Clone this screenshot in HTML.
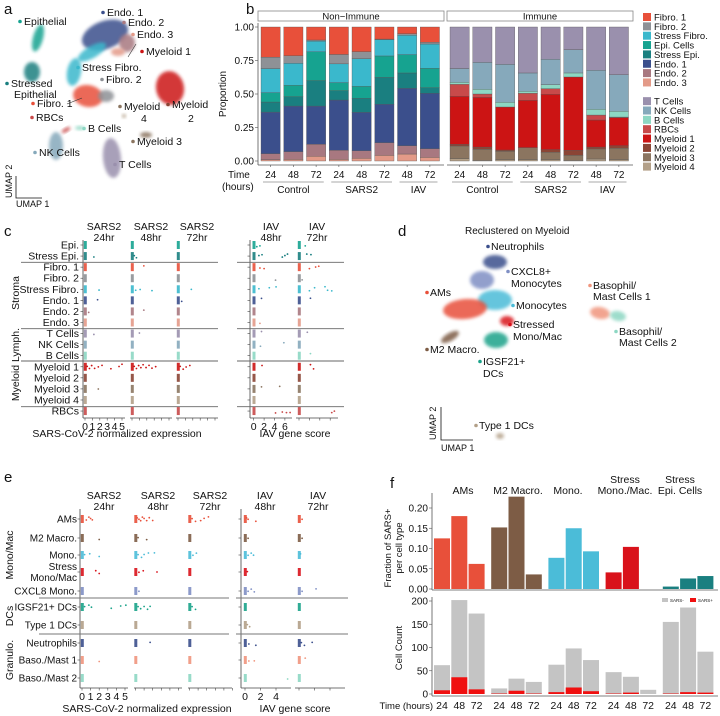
<!DOCTYPE html>
<html><head><meta charset="utf-8"><style>
html,body{margin:0;padding:0;background:#fff}
svg{display:block;font-family:"Liberation Sans",sans-serif}
</style></head><body>
<svg id="fig" width="720" height="716" viewBox="0 0 720 716">
<defs><filter id="blur" x="-30%" y="-30%" width="160%" height="160%"><feGaussianBlur stdDeviation="1.6"/></filter></defs>
<g id="pa"></g>
<g id="pb"></g>
<g id="pc"></g>
<g id="pd"></g>
<g id="pe"></g>
<g id="pf"></g>
</svg>
<script>
// ===== Panel b data =====
const bTimes=['24','48','72','24','48','72','48','72'];
const bGroups=['Control','SARS2','IAV'];
const endo3=[.01,.012,.035,.012,.02,.042,.052,.027];
const endo2=[.045,.058,.09,.068,.057,.095,.062,.065];
const endo1=[.31,.34,.285,.375,.286,.286,.428,.413];
const stressEpi=[.075,.07,.19,.07,.105,.201,.115,.042];
const epiCells=[.07,.085,.215,.06,.089,.16,.137,.145];
const stressFibro=[.18,.165,.08,.14,.207,.121,.144,.181];
const fibro2=[.085,.055,.008,.07,.052,.005,.012,.013];
const fibro1=[.225,.215,.097,.205,.184,.09,.05,.114];
const myeloid4=[.017,.005,.01,.01,.01,.005,.015,.01];
const myeloid3=[.095,.082,.062,.09,.055,.037,.075,.085];
const myeloid2=[.012,.017,.01,0,.02,.038,.014,.019];
const myeloid1=[.359,.371,.321,.353,.413,.547,.202,.209];
const rbcs=[.089,.025,0,.052,.042,0,.037,.005];
const bCells=[.015,.035,.035,.015,.03,.03,.043,.043];
const nkCells=[.103,.201,.283,.137,.189,.174,.291,.273];
const tCells=[.31,.264,.279,.343,.241,.169,.323,.356];
const bTicks=[0,0.25,0.5,0.75,1];
const bTickLabels=['0.00','0.25','0.50','0.75','1.00'];
// ===== Panel f data =====
const fCellTypes=['AMs','M2 Macro.','Mono.','Stress Mono./Mac.','Stress Epi. Cells'];
const fTimes=['24','48','72'];
const frac24=[.125,.152,.077,.041,.006];
const frac48=[.18,.228,.15,.104,.026];
const frac72=[.062,.036,.093,0,.032];
const total24=[62,12,63,47,155];
const total48=[202,33,98,37,186];
const total72=[173,26,73,9,91];
const pos24=[8,1,4,1,1];
const pos48=[36,7,14,3,4];
const pos72=[10,1,6,0,3];
const fracTicks=[0,.05,.1,.15,.2];
const countTicks=[0,50,100,150,200];
// ===== Panel c data (row index, value) =====
const cRows=['Epi.','Stress Epi.','Fibro. 1','Fibro. 2','Stress Fibro.','Endo. 1','Endo. 2','Endo. 3','T Cells','NK Cells','B Cells','Myeloid 1','Myeloid 2','Myeloid 3','Myeloid 4','RBCs'];
const cSars24=[[1,1.2],[4,1.9],[5,1.7],[6,0.5],[8,1.2],[11,0.3],[11,0.6],[11,0.9],[11,1.3],[11,1.8],[11,2.3],[11,3.5],[11,4.6],[11,5],[13,1.8]];
const cSars48=[[1,0.3],[1,0.6],[2,1.6],[4,0.5],[4,1.1],[4,2.7],[6,1.6],[8,1],[11,0.3],[11,0.6],[11,0.9],[11,1.2],[11,1.5],[11,1.9],[11,2.3],[11,2.7],[11,3.2]];
const cSars72=[[4,1.8],[5,0.5],[11,0.3],[11,0.7],[11,1.1],[11,1.6]];
const cIav48=[[0,0.6],[0,1.2],[1,1],[1,1.6],[1,5.5],[1,6],[1,6.5],[2,1.2],[2,2],[3,4.2],[4,1],[4,3],[4,4.3],[5,1.5],[7,1.2],[8,1.5],[9,1.3],[9,5.8],[11,1.6],[13,1.5],[13,5],[15,4.2],[15,5.5],[15,6.3],[15,7]];
const cIav72=[[0,1.2],[1,1.5],[1,2.3],[2,2],[2,3.2],[2,3.8],[3,0.6],[4,2],[4,3],[4,5],[4,5.5],[4,6.3],[5,2.2],[8,1.6],[10,2.2],[11,2.2],[11,2.8],[15,6.3],[15,6.8]];
const sarsTicks=[0,1,2,3,4,5];
const iavTicks=[0,2,4,6];
// ===== Panel e data =====
const eRows=['AMs','M2 Macro.','Mono.','Stress|Mono/Mac','CXCL8 Mono.','IGSF21+ DCs','Type 1 DCs','Neutrophils','Baso./Mast 1','Baso./Mast 2'];
const eSars24=[[0,.5],[0,.8],[0,1],[0,1.2],[1,2],[2,.3],[2,.9],[2,2],[3,1.6],[3,2],[5,.3],[5,.8],[5,1.1],[5,3.4],[5,4.5],[5,5.1],[8,2]];
const eSars48=[[0,.2],[0,.4],[0,.6],[0,.8],[0,1],[0,1.3],[0,1.6],[0,2],[1,.3],[1,1.3],[2,.3],[2,.7],[2,1],[2,1.5],[2,2.2],[3,.4],[3,.9],[3,2.5],[4,.4],[5,.3],[5,.6],[5,1],[5,1.4],[5,1.7],[7,1.7]];
const eSars72=[[0,.3],[0,.7],[0,1.3],[0,1.7],[0,2.2],[2,.4],[2,.8],[5,.3],[5,.7]];
const eIav48=[[0,.2],[0,.4],[0,1.4],[1,.4],[2,.4],[2,.8],[2,1.1],[3,.3],[4,.4],[4,.8],[4,1.2],[6,.3],[6,.6],[7,.5],[7,1.4],[8,.5],[8,1.2],[9,5.5]];
const eIav72=[[0,.4],[1,.4],[2,.2],[4,.4],[4,2.2],[7,.3],[7,.7],[7,1.7],[8,.8]];
const eTicksIav=[0,2,4];

const NS='http://www.w3.org/2000/svg';
function mk(tag,attrs,parent){const e=document.createElementNS(NS,tag);for(const k in attrs)e.setAttribute(k,attrs[k]);parent.appendChild(e);return e;}
function txt(parent,x,y,s,size,anchor,extra){const t=mk('text',Object.assign({x:x,y:y,'font-size':size,'text-anchor':anchor||'start',fill:'#111'},extra||{}),parent);t.textContent=s;return t;}
const pa=document.getElementById('pa'),pb=document.getElementById('pb'),pc=document.getElementById('pc'),pd=document.getElementById('pd'),pe=document.getElementById('pe'),pf=document.getElementById('pf');

[['a',4,14],['b',246,14],['c',4,236],['d',398,236],['e',4,482],['f',390,488]].forEach(l=>{
  const t=txt(document.getElementById('fig'),l[1],l[2],l[0],15,'start');
  
  
});

// ===== Panel a (UMAP) =====
const aBlobs=[['#3b4f8c',105,35,24,14,-20],['#a87880',127,43,8,9,0],['#e39a88',118,52,7,4,0],['#3ab8cc',92,52,16,6,-30],['#3ab8cc',74,72,7,14,10],['#16a390',38,38,5,14,15],['#1a7f80',32,72,8,10,0],['#e8503a',88,96,15,11,10],['#8e9196',106,96,8,6,0],['#cc1414',170,88,14,17,-10],['#c84a4a',66,130,5,2,-30],['#8dd7c3',80,128,5,2,0],['#86a9bb',56,146,7,14,0],['#9a90ad',112,158,9,20,-5],['#8b7560',146,135,6,3,0],['#b3a088',124,116,2,2,0]];
aBlobs.forEach(b=>{
  const e=mk('ellipse',{cx:b[1],cy:b[2],rx:b[3],ry:b[4],fill:b[0],opacity:0.85,filter:'url(#blur)',transform:'rotate('+b[5]+' '+b[1]+' '+b[2]+')'},pa);
  
  
});
const aLabels=[['Endo. 1',107,16,'#3b4f8c'],['Endo. 2',128,26,'#a87880'],['Endo. 3',137,38,'#e39a88'],['Epithelial',24,25,'#16a390'],['Myeloid 1',146,55,'#cc1414'],['Stress Fibro.',82,71,'#3ab8cc'],['Fibro. 2',106,83,'#8e9196'],['Stressed',11,87,'#1a7f80'],['Fibro. 1',37,107,'#e8503a'],['Myeloid',124,110,'#8b7560'],['Myeloid',172,108,'#8b4535'],['RBCs',36,121,'#c84a4a'],['B Cells',88,132,'#8dd7c3'],['Myeloid 3',137,145,'#8b7560'],['NK Cells',39,156,'#86a9bb'],['T Cells',119,168,'#9a90ad']];
aLabels.forEach(l=>{
  mk('circle',{cx:l[1]-4,cy:l[2]-3.5,r:1.8,fill:l[3]},pa);
  const t=txt(pa,l[1],l[2],l[0],10.5);
  
  
});
txt(pa,14,98,'Epithelial',10.5);txt(pa,141,122,'4',10.5);txt(pa,188,122,'2',10.5);
mk('line',{x1:128,y1:57,x2:136,y2:44,stroke:'#333','stroke-width':0.6},pa);
mk('line',{x1:67,y1:104,x2:82,y2:98,stroke:'#333','stroke-width':0.6},pa);
mk('path',{d:'M16,176 L16,198 L42,198',fill:'none',stroke:'#111','stroke-width':0.8},pa);
txt(pa,16,207,'UMAP 1',9);
txt(pa,12,198,'UMAP 2',9,'start',{transform:'rotate(-90 12 198)'});

// ===== Panel b =====
const bY=v=>161-v*134;
const nonImmune=[['Endo. 3',endo3,'#e39a88'],['Endo. 2',endo2,'#a87880'],['Endo. 1',endo1,'#3b4f8c'],['Stress Epi.',stressEpi,'#1a7f80'],['Epi. Cells',epiCells,'#16a390'],['Stress Fibro.',stressFibro,'#3ab8cc'],['Fibro. 2',fibro2,'#8e9196'],['Fibro. 1',fibro1,'#e8503a']];
const immune=[['Myeloid 4',myeloid4,'#b3a088'],['Myeloid 3',myeloid3,'#8b7560'],['Myeloid 2',myeloid2,'#8b4535'],['Myeloid 1',myeloid1,'#cc1414'],['RBCs',rbcs,'#c84a4a'],['B Cells',bCells,'#8dd7c3'],['NK Cells',nkCells,'#86a9bb'],['T Cells',tCells,'#9a90ad']];
function facet(series,x0,x1,title){
  mk('rect',{x:x0,y:11,width:x1-x0,height:10,fill:'#fff',stroke:'#888','stroke-width':0.8},pb);
  txt(pb,(x0+x1)/2,19.5,title,9.5,'middle');
  mk('line',{x1:x0,y1:165,x2:x1,y2:165,stroke:'#555','stroke-width':0.8},pb);
  const step=(x1-x0-4)/8;
  for(let i=0;i<8;i++){
    let cum=0;const bx=x0+3+i*step;
    series.forEach(s=>{
      const v=s[1][i];
      const r=mk('rect',{x:bx,y:bY(cum+v),width:step-3.5,height:v*134,fill:s[2],stroke:'#555','stroke-width':0.35},pb);
      
      
      cum+=v;
    });
    mk('line',{x1:bx+(step-3.5)/2,y1:165,x2:bx+(step-3.5)/2,y2:167,stroke:'#555','stroke-width':0.6},pb);
    txt(pb,bx+(step-3.5)/2,178,bTimes[i],10,'middle');
  }
  const grp=[[0,2],[3,5],[6,7]];
  grp.forEach((g,gi)=>{
    const a=x0+3+g[0]*step,b=x0+3+g[1]*step+step-3.5;
    mk('line',{x1:a+2,y1:182,x2:b-2,y2:182,stroke:'#555','stroke-width':0.6},pb);
    txt(pb,(a+b)/2,193,bGroups[gi],10,'middle');
  });
}
facet(nonImmune,258,444,'Non\u2212Immune');
facet(immune,447,633,'Immune');
mk('line',{x1:258,y1:23,x2:258,y2:165,stroke:'#555','stroke-width':0.8},pb);
bTicks.forEach((t,i)=>{mk('line',{x1:255,y1:bY(t),x2:258,y2:bY(t),stroke:'#555','stroke-width':0.6},pb);txt(pb,254,bY(t)+3.5,bTickLabels[i],10,'end');});
txt(pb,226,94,'Proportion',10,'middle',{transform:'rotate(-90 226 94)'});
txt(pb,228,178,'Time',10,'start');txt(pb,222,190,'(hours)',10,'start');
nonImmune.slice().reverse().concat([null]).concat(immune.slice().reverse()).forEach((s,i)=>{
  if(!s)return;const y=13+i*9.35;
  const r=mk('rect',{x:643,y:y,width:8,height:8,fill:s[2]},pb);
  
  
  txt(pb,654,y+7.5,s[0],9.5);
});

function strip(g,rowsY,colors,data,x0,x1,zero,scale,ticks,showTickLabels,yTop,yBot,name){
  mk('line',{x1:x0,y1:yBot,x2:x1,y2:yBot,stroke:'#444','stroke-width':0.8},g);
  ticks.forEach(t=>{mk('line',{x1:zero+t*scale,y1:yBot,x2:zero+t*scale,y2:yBot+2.5,stroke:'#444','stroke-width':0.6},g);if(showTickLabels)txt(g,zero+t*scale,yBot+12,String(t),10.5,'middle');});
  rowsY.forEach((y,i)=>{const r=mk('rect',{x:zero-1.2,y:y-4,width:3,height:8,fill:colors[i],opacity:0.9},g);
    
    });
  data.forEach(d=>{const c=mk('circle',{cx:zero+d[1]*scale,cy:rowsY[d[0]]+((d[1]*7)%5-2.5),r:0.9,fill:colors[d[0]]},g);
    
    });
}
// ===== Panel c =====
const cColors=['#16a390','#1a7f80','#e8503a','#8e9196','#3ab8cc','#3b4f8c','#a87880','#e39a88','#9a90ad','#86a9bb','#8dd7c3','#cc1414','#8b4535','#8b7560','#b3a088','#c84a4a'];
const cY=cRows.map((r,i)=>245+i*11.07);
mk('line',{x1:83,y1:240,x2:83,y2:418,stroke:'#444','stroke-width':0.8},pc);
mk('line',{x1:250,y1:240,x2:250,y2:418,stroke:'#444','stroke-width':0.8},pc);
cRows.forEach((r,i)=>{const t=txt(pc,79,cY[i]+3.5,r,10.5,'end');mk('line',{x1:80.5,y1:cY[i],x2:83,y2:cY[i],stroke:'#444','stroke-width':0.6},pc);mk('line',{x1:247.5,y1:cY[i],x2:250,y2:cY[i],stroke:'#444','stroke-width':0.6},pc);});
[262.3,328.7,361,406.7].forEach(y=>{mk('line',{x1:21,y1:y,x2:218,y2:y,stroke:'#666','stroke-width':0.9},pc);mk('line',{x1:237,y1:y,x2:344,y2:y,stroke:'#666','stroke-width':0.9},pc);});
strip(pc,cY,cColors,cSars24,83,125,85,7.4,sarsTicks,true,240,418,'sars24');
strip(pc,cY,cColors,cSars48,130,172,132,7.4,sarsTicks,false,240,418,'sars48');
strip(pc,cY,cColors,cSars72,176,218,178,7.4,sarsTicks,false,240,418,'sars72');
strip(pc,cY,cColors,cIav48,250,292,253.7,5.2,iavTicks,true,240,418,'iav48');
strip(pc,cY,cColors,cIav72,296,338,299,5.2,iavTicks,false,240,418,'iav72');
[['SARS2','24hr',104],['SARS2','48hr',151],['SARS2','72hr',197],['IAV','48hr',271],['IAV','72hr',317]].forEach(h=>{txt(pc,h[2],230,h[0],10.5,'middle');txt(pc,h[2],241,h[1],10.5,'middle');});
txt(pc,117,437,'SARS-CoV-2 normalized expression',10.5,'middle');
txt(pc,295,437,'IAV gene score',10.5,'middle');
[['Stroma',293],['Lymph.',345],['Myeloid',383]].forEach(l=>txt(pc,19,l[1],l[0],10.5,'middle',{transform:'rotate(-90 19 '+l[1]+')'}));

// ===== Panel d =====
txt(pd,465,234,'Reclustered on Myeloid',10,'start');
const dBlobs=[['#3b4f8c',495,262,12,7,0],['#7f8fc4',482,280,12,9,0],['#4bbcd8',495,300,17,10,0],['#e8503a',465,309,22,10,-5],['#d9121b',507,321,7,5,0],['#1aa38a',496,340,12,8,0],['#7d5c45',450,337,10,4,-30],['#f0957d',600,313,10,6,10],['#8dd7c3',618,316,8,5,10],['#b3a088',500,436,4,3,0]];
dBlobs.forEach(b=>{const e=mk('ellipse',{cx:b[1],cy:b[2],rx:b[3],ry:b[4],fill:b[0],opacity:0.85,filter:'url(#blur)',transform:'rotate('+b[5]+' '+b[1]+' '+b[2]+')'},pd);
  
  });
const dLabels=[['Neutrophils',491,250,'#3b4f8c'],['CXCL8+',511,275,'#7f8fc4'],['Monocytes',516,309,'#4bbcd8'],['AMs',430,296,'#e8503a'],['Stressed',513,328,'#d9121b'],['M2 Macro.',430,353,'#7d5c45'],['IGSF21+',483,365,'#1aa38a'],['Basophil/',593,289,'#f0957d'],['Basophil/',619,335,'#8dd7c3'],['Type 1 DCs',479,429,'#b3a088']];
dLabels.forEach(l=>{mk('circle',{cx:l[1]-3,cy:l[2]-3.5,r:1.8,fill:l[3]},pd);const t=txt(pd,l[1],l[2],l[0],10.5);});
txt(pd,511,287,'Monocytes',10.5);txt(pd,513,340,'Mono/Mac',10.5);txt(pd,483,377,'DCs',10.5);txt(pd,593,300,'Mast Cells 1',10.5);txt(pd,619,346,'Mast Cells 2',10.5);
mk('path',{d:'M441,407 L441,440 L473,440',fill:'none',stroke:'#111','stroke-width':0.8},pd);
txt(pd,441,451,'UMAP 1',9);txt(pd,436,440,'UMAP 2',9,'start',{transform:'rotate(-90 436 440)'});

// ===== Panel e =====
const eColors=['#e8503a','#7d5c45','#4bbcd8','#d9121b','#7f8fc4','#1aa38a','#b3a088','#3b4f8c','#f0957d','#8dd7c3'];
const eY=[519,538,555,572,591,607,625,643,660,678];
mk('line',{x1:80,y1:509,x2:80,y2:688,stroke:'#444','stroke-width':0.8},pe);
mk('line',{x1:241,y1:509,x2:241,y2:688,stroke:'#444','stroke-width':0.8},pe);
eRows.forEach((r,i)=>{
  const parts=r.split('|');
  if(parts.length>1){txt(pe,77,eY[i]-2,parts[0],10,'end');txt(pe,77,eY[i]+9,parts[1],10,'end');}
  else{const t=txt(pe,77,eY[i]+3.5,r,10,'end');}
  mk('line',{x1:77.5,y1:eY[i],x2:80,y2:eY[i],stroke:'#444','stroke-width':0.6},pe);
  mk('line',{x1:238.5,y1:eY[i],x2:241,y2:eY[i],stroke:'#444','stroke-width':0.6},pe);
});
[598,634].forEach(y=>{mk('line',{x1:39,y1:y,x2:229,y2:y,stroke:'#777','stroke-width':1},pe);mk('line',{x1:236,y1:y,x2:348,y2:y,stroke:'#777','stroke-width':1},pe);});
strip(pe,eY,eColors,eSars24,80,128,82,8.6,sarsTicks,true,509,688,'e-sars24');
strip(pe,eY,eColors,eSars48,134,182,135.5,8.6,sarsTicks,false,509,688,'e-sars48');
strip(pe,eY,eColors,eSars72,188,232,189.5,8.6,sarsTicks,false,509,688,'e-sars72');
strip(pe,eY,eColors,eIav48,241,291,245,7.75,eTicksIav,true,509,688,'e-iav48');
strip(pe,eY,eColors,eIav72,295,345,299,7.75,eTicksIav,false,509,688,'e-iav72');
[['SARS2','24hr',104],['SARS2','48hr',158],['SARS2','72hr',210],['IAV','48hr',265],['IAV','72hr',318]].forEach(h=>{txt(pe,h[2],499,h[0],10.5,'middle');txt(pe,h[2],510,h[1],10.5,'middle');});
txt(pe,147,712,'SARS-CoV-2 normalized expression',10.5,'middle');
txt(pe,295,712,'IAV gene score',10.5,'middle');
[['Mono/Mac',555],['DCs',616],['Granulo.',660]].forEach(l=>txt(pe,13,l[1],l[0],10.5,'middle',{transform:'rotate(-90 13 '+l[1]+')'}));

// ===== Panel f =====
const fColors=['#e8503a','#7d5c45','#4bbcd8','#d9121b','#1a7f80'];
const fracY=v=>589-v*405;
const cntY=v=>694-v*0.465;
const fracSets=[frac24,frac48,frac72],totSets=[total24,total48,total72],posSets=[pos24,pos48,pos72];
const gx=g=>434+g*57.2, bx=(g,t)=>gx(g)+t*17.3;
mk('line',{x1:432,y1:493,x2:432,y2:590,stroke:'#555','stroke-width':0.8},pf);
mk('line',{x1:432,y1:590,x2:718,y2:590,stroke:'#555','stroke-width':0.8},pf);
mk('line',{x1:432,y1:597,x2:432,y2:696,stroke:'#555','stroke-width':0.8},pf);
mk('line',{x1:432,y1:696,x2:718,y2:696,stroke:'#555','stroke-width':0.8},pf);
fracTicks.forEach(t=>{mk('line',{x1:429,y1:fracY(t),x2:432,y2:fracY(t),stroke:'#555','stroke-width':0.6},pf);txt(pf,428,fracY(t)+3.5,t.toFixed(2),10,'end');});
countTicks.forEach(t=>{mk('line',{x1:429,y1:cntY(t),x2:432,y2:cntY(t),stroke:'#555','stroke-width':0.6},pf);txt(pf,428,cntY(t)+3.5,String(t),10,'end');});
fCellTypes.forEach((c,g)=>{
  for(let t=0;t<3;t++){
    const f=fracSets[t][g];
    const r=mk('rect',{x:bx(g,t),y:fracY(f),width:16,height:f*405,fill:fColors[g]},pf);
    
    
    const tot=totSets[t][g],pos=posSets[t][g];
    const r2=mk('rect',{x:bx(g,t),y:cntY(tot),width:16,height:tot*0.465,fill:'#c4c4c4'},pf);
    
    
    const r3=mk('rect',{x:bx(g,t),y:cntY(pos),width:16,height:pos*0.465,fill:'#f01010'},pf);
    
    
    txt(pf,bx(g,t)+8,709,fTimes[t],10.5,'middle');
  }
});
txt(pf,463,494,'AMs',10.5,'middle');txt(pf,518,494,'M2 Macro.',10.5,'middle');txt(pf,568,494,'Mono.',10.5,'middle');
txt(pf,625,483,'Stress',10.5,'middle');txt(pf,625,494,'Mono./Mac.',10.5,'middle');
txt(pf,680,483,'Stress',10.5,'middle');txt(pf,680,494,'Epi. Cells',10.5,'middle');
txt(pf,391,548,'Fraction of SARS+',9.5,'middle',{transform:'rotate(-90 391 548)'});
txt(pf,402,548,'per cell type',9.5,'middle',{transform:'rotate(-90 402 548)'});
txt(pf,402,648,'Cell Count',9.5,'middle',{transform:'rotate(-90 402 648)'});
txt(pf,433,709,'Time (hours)',9.5,'end');
mk('rect',{x:662,y:598,width:6,height:4,fill:'#c4c4c4'},pf);txt(pf,670,602,'SARS-',4.5);
mk('rect',{x:690,y:598,width:6,height:4,fill:'#f01010'},pf);txt(pf,698,602,'SARS+',4.5);
</script>
</body></html>
